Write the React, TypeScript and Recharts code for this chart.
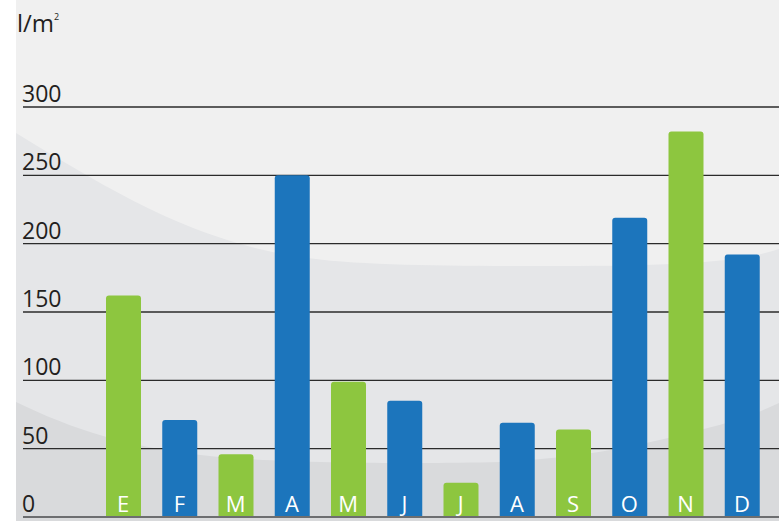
import React from 'react';
import { BarChart, Bar, XAxis, YAxis, CartesianGrid, Cell } from 'recharts';

const months = ['E', 'F', 'M', 'A', 'M', 'J', 'J', 'A', 'S', 'O', 'N', 'D'];
const rainfall = [162, 71, 46, 250, 99, 85, 25, 69, 64, 219, 282, 192];
const barColors = ['#8dc63f', '#1c75bc', '#8dc63f', '#1c75bc', '#8dc63f', '#1c75bc', '#8dc63f', '#1c75bc', '#8dc63f', '#1c75bc', '#8dc63f', '#1c75bc'];
const yTicks = [0, 50, 100, 150, 200, 250, 300];
const unitLabel = 'l/m';

const data = months.map((m, i) => ({ key: i, month: m, value: rainfall[i] }));

const FONT = '"Open Sans", "Noto Sans", sans-serif';

const renderYTick = (props: any) => {
  const { y, payload } = props;
  return (
    <text key={`y-${payload.value}`} x={22} y={y - 5} fontSize={23} fontFamily={FONT} fill="#231f20" textAnchor="start">
      {payload.value}
    </text>
  );
};

const renderXTick = (props: any) => {
  const { x, payload } = props;
  return (
    <text key={`x-${payload.value}`} x={x} y={512} fontSize={22} fontFamily={FONT} fill="#ffffff" textAnchor="middle">
      {months[payload.value]}
    </text>
  );
};

export default function App() {
  return (
    <div style={{ position: 'absolute', left: 0, top: 0, width: 779, height: 521, background: '#ffffff' }}>
      <svg width={779} height={521} style={{ position: 'absolute', left: 0, top: 0 }}>
        <rect x={16} y={0} width={763} height={521} fill="#f0f0f0" />
        <path
          d="M16,133 C 110,190 190,240 300,257 C 360,266 450,266 560,266 C 680,266 740,262 779,249 L779,521 L16,521 Z"
          fill="#e5e6e8"
        />
        <path
          d="M16,402 C 70,428 130,450 230,458 C 300,463 420,464 500,462 C 580,458 640,446 700,430 C 740,420 760,412 779,403 L779,521 L16,521 Z"
          fill="#d9dadc"
        />
        <text x={17} y={32} fontSize={24} fontFamily={FONT} fill="#231f20">
          {unitLabel}
          <tspan fontSize={9} dy={-12}>2</tspan>
        </text>
      </svg>
      <div style={{ position: 'absolute', left: 0, top: 0 }}>
        <BarChart width={779} height={521} data={data} margin={{ top: 107, right: 0, bottom: 2, left: 22 }}>
          <CartesianGrid vertical={false} stroke="#2b2b2b" strokeWidth={1.3} />
          <YAxis
            domain={[0, 300]}
            ticks={yTicks}
            width={1}
            axisLine={false}
            tickLine={false}
            tick={renderYTick}
            interval={0}
          />
          <XAxis
            dataKey="key"
            height={2}
            padding={{ left: 72, right: 9 }}
            axisLine={{ stroke: '#6d6e70', strokeWidth: 2 }}
            tickLine={false}
            tick={renderXTick}
            interval={0}
          />
          <Bar dataKey="value" barSize={35} radius={[3, 3, 0, 0]} isAnimationActive={false}>
            {data.map((d, i) => (
              <Cell key={d.key} fill={barColors[i]} />
            ))}
          </Bar>
        </BarChart>
      </div>
    </div>
  );
}
